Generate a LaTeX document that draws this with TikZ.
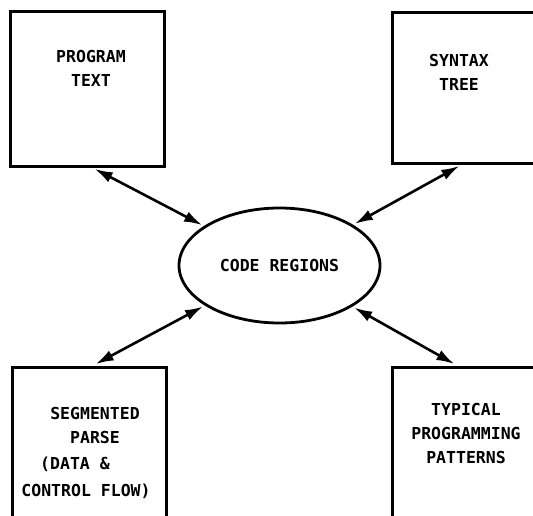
\documentclass[tikz,border=0pt]{standalone}
\usepackage{fontspec}
\newfontfamily\lettering{DejaVu Sans Mono}
\usetikzlibrary{arrows.meta,shapes.geometric}

\tikzset{
  box/.style={draw, line width=3pt, minimum width=154pt, inner sep=0pt},
  words/.style={font=\lettering\bfseries\fontsize{16.5}{24}\selectfont, align=center, inner sep=0pt},
  link/.style={line width=2.6pt, {Latex[length=18pt,width=11pt]}-{Latex[length=18pt,width=11pt]},
    shorten <=3pt, shorten >=2pt}
}

\begin{document}
\begin{tikzpicture}[x=1pt, y=-1pt]
		%%%%% START %%%%%
		\useasboundingbox (0,0) rectangle (533,515);
		\clip (0,0) rectangle (533,515);
		
		% the four boxes, the right and bottom ones run off the page
		\node[box, minimum height=155pt] (prog) at (87,88.5) {};
		\node[box, minimum height=151pt] (tree) at (469,87.5) {};
		\node[box, minimum height=170pt] (parse) at (89.5,452) {};
		\node[box, minimum height=170pt] (pat) at (469,452) {};
		
		\node[words] (progtxt) at (91,68.5) {PROGRAM\\TEXT};
		\node[words] (treetxt) at (459,72) {SYNTAX\\TREE};
		\node[words] (parsetxt) at (95,425) {SEGMENTED\\PARSE};
		\node[words] (flowa) at (75,464) {(DATA \&};
		\node[words] (flowb) at (86,491) {CONTROL FLOW)};
		\node[words] (pattxt) at (466,433.5) {TYPICAL\\PROGRAMMING\\PATTERNS};
		
		% the hub
		\node[ellipse, draw, line width=2.8pt, minimum width=201pt, minimum height=115pt, words] (code) at (279.5,265.5) {CODE REGIONS};
		
		\draw[link] ([xshift=5pt]prog.south) -- (code);
		\draw[link] ([xshift=-7pt]tree.south) -- (code);
		\draw[link] ([xshift=3.5pt]parse.north) -- (code);
		\draw[link] ([xshift=-12pt]pat.north) -- (code);
		
		%%%%% END %%%%%
	\end{tikzpicture}
\end{document}
